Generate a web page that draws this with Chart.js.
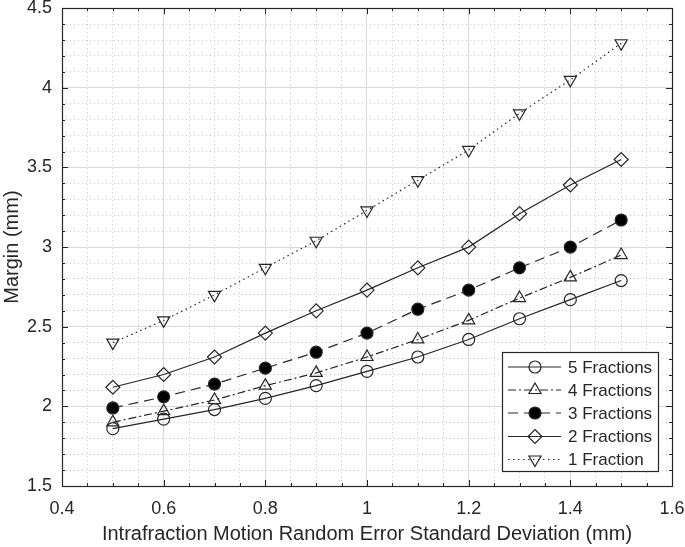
<!DOCTYPE html>
<html><head><meta charset="utf-8">
<script src="https://cdn.jsdelivr.net/npm/chart.js@4/dist/chart.umd.min.js"></script>
<style>html,body{margin:0;padding:0;background:#fff}</style>
</head><body>
<canvas id="c" width="685" height="547" style="width:685px;height:547px;display:block"></canvas>
<script>
// ---- data ----
const sigmaValues = [0.5, 0.6, 0.7, 0.8, 0.9, 1.0, 1.1, 1.2, 1.3, 1.4, 1.5];
const fractions5 = [1.86, 1.92, 1.98, 2.05, 2.13, 2.22, 2.31, 2.42, 2.55, 2.67, 2.79];
const fractions4 = [1.90, 1.97, 2.04, 2.13, 2.21, 2.31, 2.42, 2.54, 2.68, 2.81, 2.95];
const fractions3 = [1.99, 2.06, 2.14, 2.24, 2.34, 2.46, 2.61, 2.73, 2.87, 3.00, 3.17];
const fractions2 = [2.12, 2.20, 2.31, 2.46, 2.60, 2.73, 2.87, 3.00, 3.21, 3.39, 3.55];
const fractions1 = [2.40, 2.54, 2.70, 2.87, 3.04, 3.23, 3.42, 3.61, 3.84, 4.05, 4.28];
const seriesNames = ['5 Fractions', '4 Fractions', '3 Fractions', '2 Fractions', '1 Fraction'];
const xTickLabels = ['0.4', '0.6', '0.8', '1', '1.2', '1.4', '1.6'];
const yTickLabels = ['1.5', '2', '2.5', '3', '3.5', '4', '4.5'];

const INK = '#262626';
const FONT = '"Liberation Sans", Arial, sans-serif';
const xMin = parseFloat(xTickLabels[0]), xMax = parseFloat(xTickLabels[xTickLabels.length - 1]);
const yMin = parseFloat(yTickLabels[0]), yMax = parseFloat(yTickLabels[yTickLabels.length - 1]);

const styles = [
  { dash: [], pointStyle: 'circle', radius: 6, fill: 'rgba(0,0,0,0)', rotation: 0 },
  { dash: [8, 3, 2, 3], pointStyle: 'triangle', radius: 7, fill: 'rgba(0,0,0,0)', rotation: 0 },
  { dash: [10, 6], pointStyle: 'circle', radius: 6, fill: '#000', rotation: 0 },
  { dash: [], pointStyle: 'rectRot', radius: 7, fill: 'rgba(0,0,0,0)', rotation: 0 },
  { dash: [1.5, 3.5], pointStyle: 'triangle', radius: 7, fill: 'rgba(0,0,0,0)', rotation: 180 }
];
const seriesValues = [fractions5, fractions4, fractions3, fractions2, fractions1];

const datasets = seriesValues.map((vals, i) => ({
  label: seriesNames[i],
  data: vals.map((v, j) => ({ x: sigmaValues[j], y: v })),
  borderColor: INK,
  borderWidth: 1.2,
  borderDash: styles[i].dash,
  pointStyle: styles[i].pointStyle,
  pointRadius: styles[i].radius,
  pointRotation: styles[i].rotation,
  pointBackgroundColor: styles[i].fill,
  pointBorderColor: INK,
  pointBorderWidth: 1.2,
  fill: false,
  tension: 0
}));

function drawMarker(ctx, st, x, y) {
  ctx.save();
  ctx.setLineDash([]);
  ctx.lineWidth = 1.2;
  ctx.strokeStyle = INK;
  ctx.fillStyle = st.fill;
  const r = st.radius;
  ctx.beginPath();
  if (st.pointStyle === 'circle') {
    ctx.arc(x, y, r, 0, Math.PI * 2);
  } else if (st.pointStyle === 'rectRot') {
    ctx.moveTo(x, y - r); ctx.lineTo(x + r, y); ctx.lineTo(x, y + r); ctx.lineTo(x - r, y); ctx.closePath();
  } else if (st.pointStyle === 'triangle') {
    const s = st.rotation === 180 ? -1 : 1;
    ctx.moveTo(x, y - s * r);
    ctx.lineTo(x + r * Math.sin(Math.PI / 3 * 2), y + s * r * 0.5);
    ctx.lineTo(x - r * Math.sin(Math.PI / 3 * 2), y + s * r * 0.5);
    ctx.closePath();
  }
  ctx.fill();
  ctx.stroke();
  ctx.restore();
}

const framePlugin = {
  id: 'frame',
  afterDatasetsDraw(chart) {
    const { ctx, chartArea: a, scales } = chart;
    ctx.save();
    // inner tick marks
    ctx.strokeStyle = INK; ctx.lineWidth = 1; ctx.setLineDash([]);
    ctx.beginPath();
    scales.xMinor.ticks.forEach(t => {
      const px = Math.round(scales.x.getPixelForValue(t.value)) + 0.5;
      const major = xTickLabels.some(l => Math.abs(parseFloat(l) - t.value) < 1e-6);
      const len = major ? 6 : 3;
      ctx.moveTo(px, a.bottom); ctx.lineTo(px, a.bottom - len);
      ctx.moveTo(px, a.top); ctx.lineTo(px, a.top + len);
    });
    scales.yMinor.ticks.forEach(t => {
      const py = Math.round(scales.y.getPixelForValue(t.value)) + 0.5;
      const major = yTickLabels.some(l => Math.abs(parseFloat(l) - t.value) < 1e-6);
      const len = major ? 6 : 3;
      ctx.moveTo(a.left, py); ctx.lineTo(a.left + len, py);
      ctx.moveTo(a.right, py); ctx.lineTo(a.right - len, py);
    });
    ctx.stroke();
    ctx.lineWidth = 1.2;
    ctx.strokeRect(Math.round(a.left) + 0.5, Math.round(a.top) + 0.5, Math.round(a.right - a.left), Math.round(a.bottom - a.top));

    // legend box
    const bx = 502, by = 352, bw = 156, bh = 119;
    ctx.fillStyle = '#fff';
    ctx.fillRect(bx, by, bw, bh);
    ctx.strokeStyle = INK; ctx.lineWidth = 1.2;
    ctx.strokeRect(bx + 0.5, by + 0.5, bw, bh);
    const rows = [367, 390, 413, 436.5, 459.5];
    ctx.font = '17px ' + FONT;
    ctx.textBaseline = 'middle';
    ctx.textAlign = 'left';
    seriesNames.forEach((name, i) => {
      const y = rows[i];
      ctx.save();
      ctx.strokeStyle = INK; ctx.lineWidth = 1.2;
      ctx.setLineDash(styles[i].dash);
      ctx.beginPath(); ctx.moveTo(508, y); ctx.lineTo(561, y); ctx.stroke();
      ctx.restore();
      drawMarker(ctx, styles[i], 535, y);
      ctx.fillStyle = INK;
      ctx.fillText(name, 568, y + 1);
    });
    ctx.restore();
  }
};

function noPad(s) { s.paddingTop = 0; s.paddingBottom = 0; s.paddingLeft = 0; s.paddingRight = 0; }

new Chart(document.getElementById('c'), {
  type: 'line',
  data: { datasets },
  options: {
    responsive: false,
    animation: false,
    devicePixelRatio: 1,
    layout: { padding: { top: 6, right: 13, left: 0, bottom: 0 } },
    plugins: { legend: { display: false }, tooltip: { enabled: false } },
    scales: {
      xMinor: {
        type: 'linear', position: 'bottom', min: xMin, max: xMax,
        ticks: { display: false, stepSize: 0.05 },
        grid: { color: '#c4c4c4', lineWidth: 1, drawTicks: false },
        border: { display: false, dash: [1, 3] },
        afterFit: s => { s.height = 0; noPad(s); }
      },
      yMinor: {
        type: 'linear', position: 'left', min: yMin, max: yMax,
        ticks: { display: false, stepSize: 0.1 },
        grid: { color: '#c4c4c4', lineWidth: 1, drawTicks: false },
        border: { display: false, dash: [1, 3] },
        afterFit: s => { s.width = 0; noPad(s); }
      },
      x: {
        type: 'linear', position: 'bottom', min: xMin, max: xMax,
        ticks: {
          stepSize: 0.2, color: INK, font: { family: FONT, size: 18 }, padding: 12, maxRotation: 0,
          callback: (v) => { const l = xTickLabels.find(t => Math.abs(parseFloat(t) - v) < 1e-6); return l === undefined ? '' : l; }
        },
        grid: { color: '#d9d9d9', lineWidth: 1, drawTicks: false },
        border: { display: false },
        title: { display: true, text: 'Intrafraction Motion Random Error Standard Deviation (mm)', color: INK, font: { family: FONT, size: 20 }, padding: { top: 2, bottom: 1 } },
        afterFit: s => { s.height = 61; noPad(s); }
      },
      y: {
        type: 'linear', position: 'left', min: yMin, max: yMax,
        ticks: {
          stepSize: 0.5, color: INK, font: { family: FONT, size: 18 }, padding: 10,
          callback: (v) => { const l = yTickLabels.find(t => Math.abs(parseFloat(t) - v) < 1e-6); return l === undefined ? '' : l; }
        },
        grid: { color: '#d9d9d9', lineWidth: 1, drawTicks: false },
        border: { display: false },
        title: { display: true, text: 'Margin (mm)', color: INK, font: { family: FONT, size: 20 }, padding: { top: 0, bottom: 2 } },
        afterFit: s => { s.width = 62; noPad(s); }
      }
    }
  },
  plugins: [framePlugin]
});
</script>
</body></html>
